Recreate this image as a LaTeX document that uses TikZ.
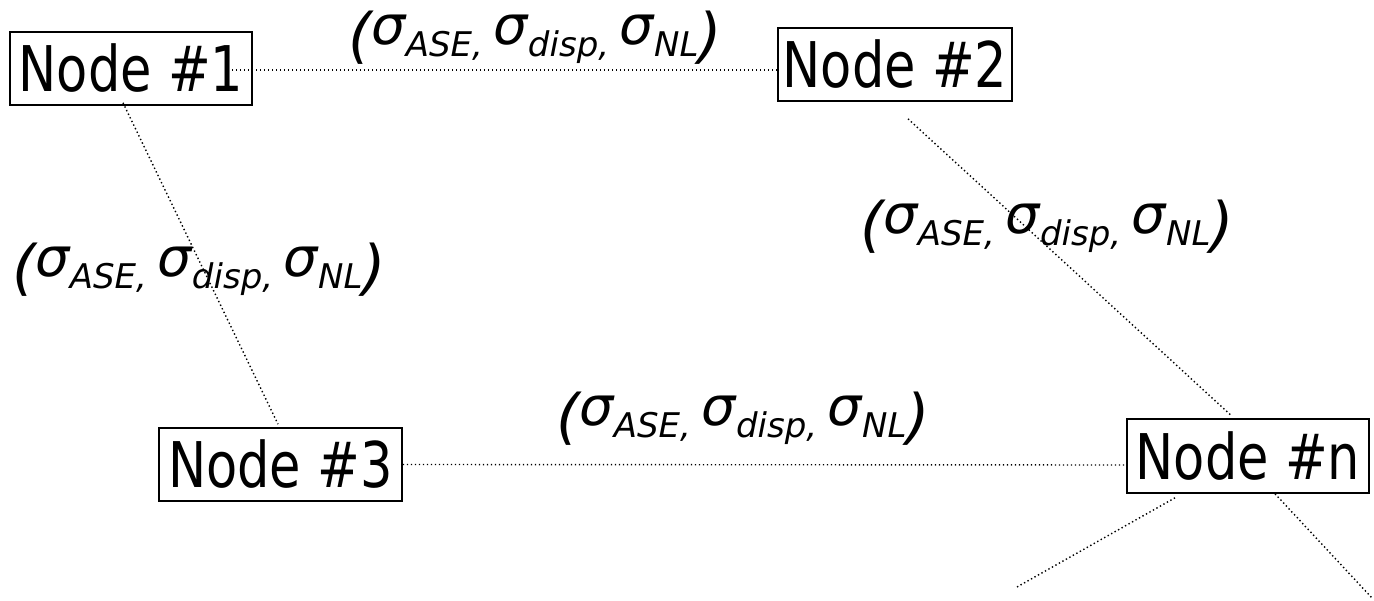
\documentclass[tikz,border=0pt]{standalone}
\usepackage{fontspec}
\usetikzlibrary{calc}
\newfontfamily\boxfont[FakeStretch=0.81]{DejaVu Sans}
\newfontfamily\lblfont{DejaVu Sans}
% raised sigma followed by its index on the baseline
\newcommand\sig[1]{\raisebox{12pt}{\fontsize{54}{62}\selectfont σ}{\fontsize{34}{40}\selectfont #1}}
% the noise triple printed on every link
\newcommand\noisetriple{\lblfont\itshape\fontsize{60}{70}\selectfont (\sig{ASE, }\sig{disp, }\sig{NL})}
\begin{document}
\begin{tikzpicture}[x=1pt,y=-1pt,
  box/.style={draw, line width=1.6pt, inner sep=0pt, minimum height=73pt,
    font=\boxfont\fontsize{63}{75}\selectfont},
  link/.style={line width=1.4pt, dash pattern=on 1.4pt off 2.6pt},
  tag/.style={anchor=base west, inner sep=0pt}]
\useasboundingbox (0,0) rectangle (1374,601);

% network nodes
\node[box, minimum width=242pt] (n1) at (131,68.5) {Node \#1};
\node[box, minimum width=234pt] (n2) at (895,64.5) {Node \#2};
\node[box, minimum width=243pt] (n3) at (280.5,464.5) {Node \#3};
\node[box, minimum width=242pt, minimum height=74pt] (nn) at (1248,456) {Node \#n};

% open ends of the links leaving node n
\coordinate (outA) at (1017,587);
\coordinate (outB) at (1372,598);

% links
\draw[link] ($(n1.center)+(97,1.5)$) -- ($(n2.west)+(0,5.5)$);
\draw[link] ($(n1.south)+(-8,-3)$) -- ($(n3.north)+(-2.5,-3)$);
\draw[link] ($(n2.south)+(13,17)$) -- ($(nn.north)+(-16,-2)$);
\draw[link] (n3.east) -- ($(nn.west)+(0,9)$);
\draw[link] ($(nn.south)+(-73,4)$) -- (outA);
\draw[link] ($(nn.south)+(27,0)$) -- (outB);

% link labels
\node[tag] (t12) at (348,57) {\noisetriple};
\node[tag] (t13) at (12,289) {\noisetriple};
\node[tag] (t2n) at (860,246) {\noisetriple};
\node[tag] (t3n) at (556,438) {\noisetriple};
\end{tikzpicture}
\end{document}
